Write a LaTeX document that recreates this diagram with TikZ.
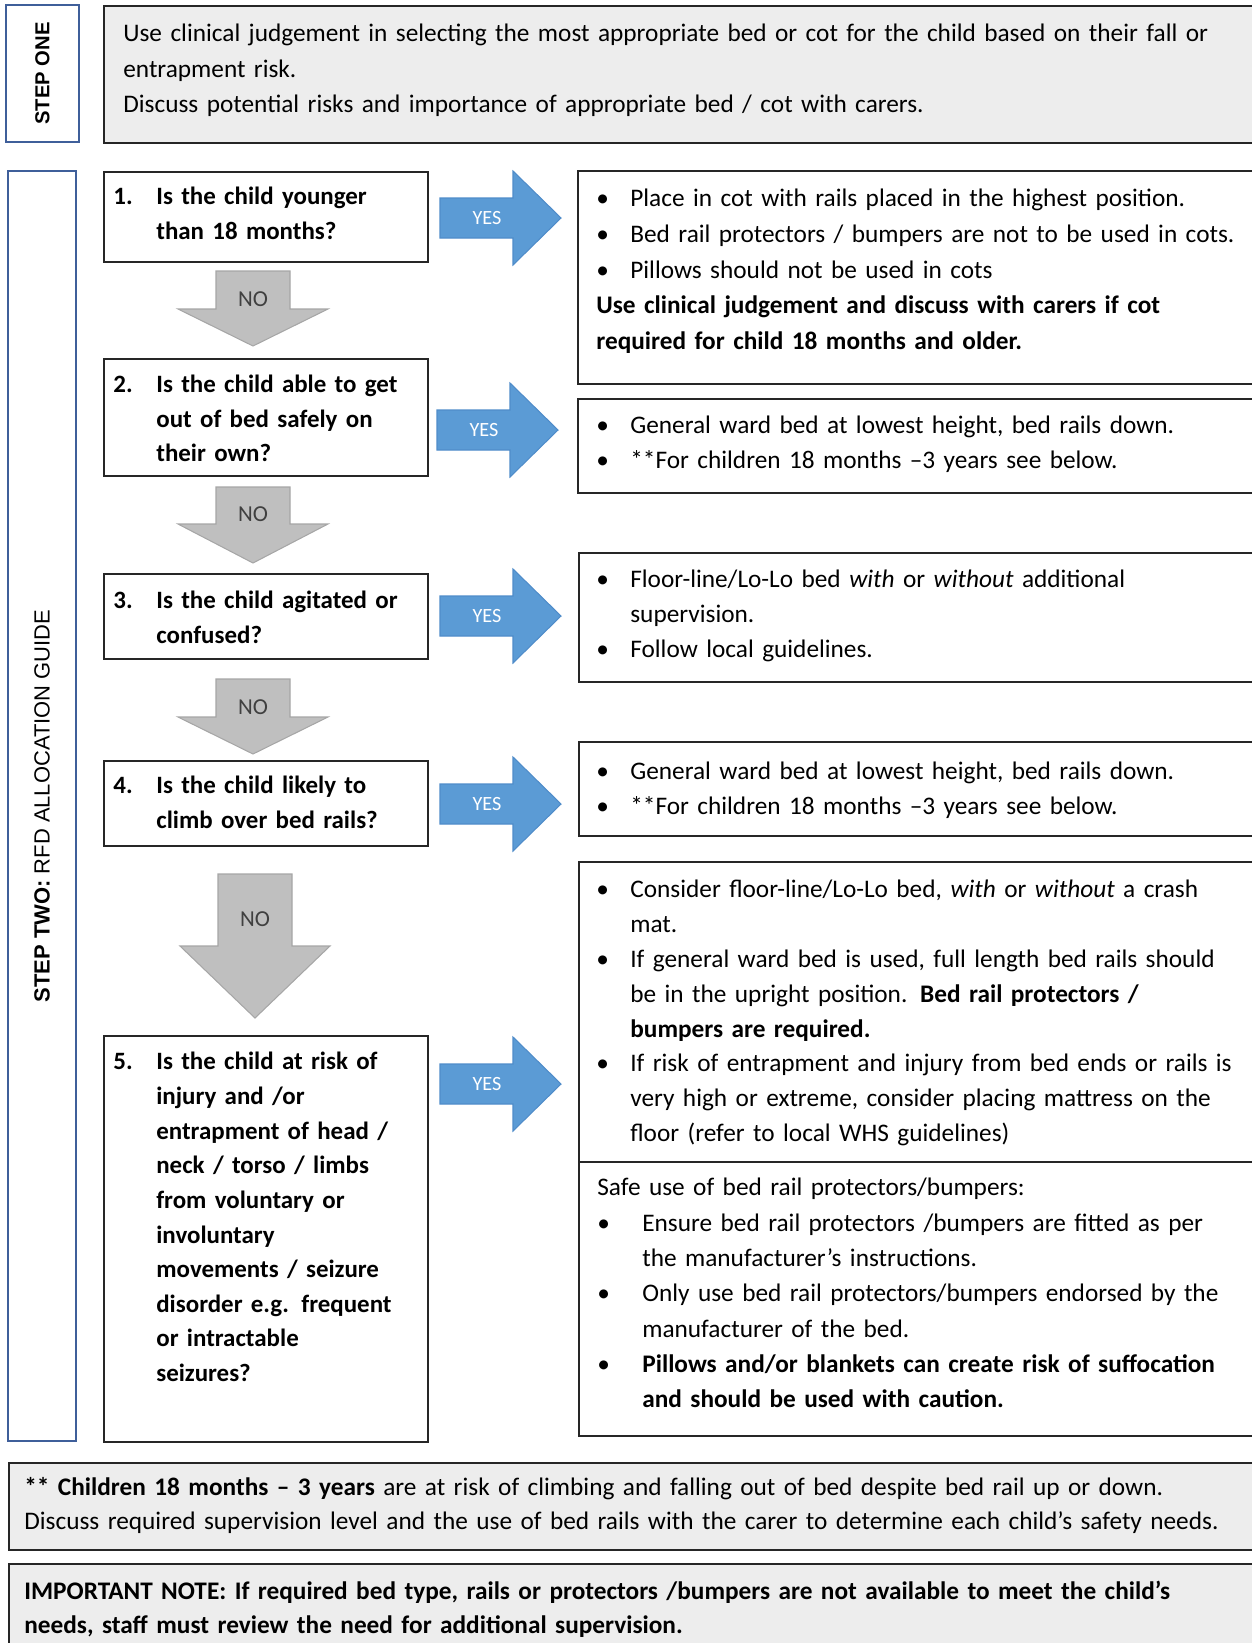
\documentclass[tikz,border=0pt]{standalone}
\usepackage{fontspec}
\setmainfont{Carlito}
\newfontfamily\labelfont{Liberation Sans}

\definecolor{boxgray}{HTML}{EDEDED}
\definecolor{frameline}{HTML}{262626}
\definecolor{stepblue}{HTML}{3F5F9A}
\definecolor{yesblue}{HTML}{5B9BD5}
\definecolor{yesline}{HTML}{4F8CC9}
\definecolor{nogray}{HTML}{BFBFBF}
\definecolor{noline}{HTML}{A6A6A6}
\definecolor{notext}{HTML}{404040}

\newcommand{\mainsize}{\fontsize{14.4}{19.8}\selectfont}
\newcommand{\qnum}[1]{\makebox[0.86cm][l]{#1}}
\newcommand{\qind}{\hspace*{0.86cm}}
\newcommand{\bul}{\makebox[0.68cm][l]{\textbullet}}
\newcommand{\bulind}{\hspace*{0.68cm}}
\newcommand{\bulwide}{\makebox[0.9cm][l]{\textbullet}}
\newcommand{\wideind}{\hspace*{0.9cm}}

\begin{document}
\begin{tikzpicture}[x=0.02cm, y=-0.02cm,
    frame/.style={draw=frameline, line width=1.1pt, fill=white, anchor=north west, inner sep=0pt},
    grayframe/.style={frame, fill=boxgray},
    steplbl/.style={draw=stepblue, line width=0.9pt, fill=white, rotate=90, inner sep=0pt,
      font=\labelfont\fontsize{11.5}{14}\selectfont},
    txt/.style={anchor=base west, inner sep=0pt, align=left, text width=14cm, font=\mainsize, yshift=-1.1pt},
    qtxt/.style={txt, text width=6.2cm, font=\fontsize{14.2}{19.5}\selectfont\bfseries},
    yesarrow/.style={fill=yesblue, draw=yesline, line width=0.6pt},
    yeslbl/.style={text=white, inner sep=0pt, font=\fontsize{11.5}{13}\selectfont},
    noarrow/.style={fill=nogray, draw=noline, line width=0.6pt},
    nolbl/.style={text=notext, inner sep=0pt, font=\fontsize{13}{14}\selectfont}]
  \useasboundingbox (0,0) rectangle (1251,1643);

  % step labels
  \node[steplbl, minimum width=2.74cm, minimum height=1.46cm] (s1lbl) at (42.5,73.5) {\bfseries STEP ONE};
  \node[steplbl, minimum width=25.4cm, minimum height=1.36cm, font=\labelfont\fontsize{12.5}{14}\selectfont]
    (s2lbl) at (42,806) {\textbf{STEP TWO:} RFD ALLOCATION GUIDE};

  % frames
  \node[grayframe, minimum width=23.18cm, minimum height=2.74cm] (s1box) at (103,5) {};
  \foreach \nm/\px/\py/\w/\h in {q1/103/171/6.48/1.8, q2/103/358/6.48/2.34, q3/103/573/6.48/1.7,
      q4/103/760/6.48/1.7, q5/103/1035/6.48/8.12, r1/577/170/13.7/4.26, r2/577/398/13.7/1.88,
      r3/578/552/13.7/2.58, r4/578/741/13.7/1.88, r5a/578/861/13.7/6.0, r5b/578/1161/13.7/5.48}
    \node[frame, minimum width=\w cm, minimum height=\h cm] (\nm) at (\px,\py) {};
  \node[grayframe, minimum width=25.08cm, minimum height=1.74cm] (foot) at (8,1462) {};
  \node[grayframe, minimum width=25.08cm, minimum height=1.94cm] (note) at (8,1563) {};

  % yes arrows
  \foreach \lx/\cy/\nm in {440/218/y1, 437/430/y2, 440/616/y3, 440/804/y4, 440/1084/y5} {
    \draw[yesarrow] (\lx,\cy-20) -- (\lx+73,\cy-20) -- (\lx+73,\cy-47) -- (\lx+121,\cy)
      -- (\lx+73,\cy+47) -- (\lx+73,\cy+20) -- (\lx,\cy+20) -- cycle;
    \node[yeslbl] (\nm) at (\lx+47,\cy) {YES};
  }
  % no arrows
  \foreach \cx/\t/\b/\p/\nm in {253/271/309/346/n1, 253/487/524/563/n2, 253/679/717/754/n3, 255/874/946/1018/n4} {
    \draw[noarrow] (\cx-37,\t) -- (\cx+37,\t) -- (\cx+37,\b) -- (\cx+75,\b) -- (\cx,\p)
      -- (\cx-75,\b) -- (\cx-37,\b) -- cycle;
    \node[nolbl] (\nm) at (\cx,{(\t+\b)/2+9}) {NO};
  }

  % texts
  \node[txt, text width=23cm, font=\fontsize{14.4}{20}\selectfont] (s1t) at (123,40)
    {Use clinical judgement in selecting the most appropriate bed or cot for the child based on their fall or\\
     entrapment risk.\\
     Discuss potential risks and importance of appropriate bed / cot with carers.};
  \node[qtxt] (q1t) at (113,203) {\qnum{1.}Is the child younger\\ \qind than 18 months?};
  \node[qtxt] (q2t) at (113,391) {\qnum{2.}Is the child able to get\\ \qind out of bed safely on\\ \qind their own?};
  \node[qtxt] (q3t) at (113,607) {\qnum{3.}Is the child agitated or\\ \qind confused?};
  \node[qtxt] (q4t) at (113,792) {\qnum{4.}Is the child likely to\\ \qind climb over bed rails?};
  \node[qtxt, font=\fontsize{14.2}{19.7}\selectfont\bfseries] (q5t) at (113,1068) {\qnum{5.}Is the child at risk of\\ \qind injury and /or\\
    \qind entrapment of head /\\ \qind neck / torso / limbs\\ \qind from voluntary or\\ \qind involuntary\\
    \qind movements / seizure\\ \qind disorder e.g. frequent\\ \qind or intractable\\ \qind seizures?};

  \node[txt, font=\fontsize{14.4}{20.3}\selectfont] (r1t) at (596,205)
    {\bul Place in cot with rails placed in the highest position.\\
     \bul Bed rail protectors / bumpers are not to be used in cots.\\
     \bul Pillows should not be used in cots\\
     \textbf{Use clinical judgement and discuss with carers if cot}\\
     \textbf{required for child 18 months and older.}};
  \node[txt] (r2t) at (596,432)
    {\bul General ward bed at lowest height, bed rails down.\\
     \bul **For children 18 months --3 years see below.};
  \node[txt] (r3t) at (596,586)
    {\bul Floor-line/Lo-Lo bed \textit{with} or \textit{without} additional\\
     \bulind supervision.\\
     \bul Follow local guidelines.};
  \node[txt] (r4t) at (596,778)
    {\bul General ward bed at lowest height, bed rails down.\\
     \bul **For children 18 months --3 years see below.};
  \node[txt] (r5at) at (596,896)
    {\bul Consider floor-line/Lo-Lo bed, \textit{with} or \textit{without} a crash\\
     \bulind mat.\\
     \bul If general ward bed is used, full length bed rails should\\
     \bulind be in the upright position. \textbf{Bed rail protectors /}\\
     \bulind \textbf{bumpers are required.}\\
     \bul If risk of entrapment and injury from bed ends or rails is\\
     \bulind very high or extreme, consider placing mattress on the\\
     \bulind floor (refer to local WHS guidelines)};
  \node[txt, font=\fontsize{14.4}{20.1}\selectfont] (r5bt) at (597,1194)
    {Safe use of bed rail protectors/bumpers:\\
     \bulwide Ensure bed rail protectors /bumpers are fitted as per\\
     \wideind the manufacturer's instructions.\\
     \bulwide Only use bed rail protectors/bumpers endorsed by the\\
     \wideind manufacturer of the bed.\\
     \bulwide \textbf{Pillows and/or blankets can create risk of suffocation}\\
     \wideind \textbf{and should be used with caution.}};

  \node[txt, text width=24.8cm, font=\fontsize{14.4}{19}\selectfont] (foott) at (24,1494)
    {\textbf{** Children 18 months -- 3 years} are at risk of climbing and falling out of bed despite bed rail up or down.\\
     Discuss required supervision level and the use of bed rails with the carer to determine each child's safety needs.};
  \node[txt, text width=24.8cm, font=\fontsize{14.4}{19}\selectfont\bfseries] (notet) at (24,1598)
    {IMPORTANT NOTE: If required bed type, rails or protectors /bumpers are not available to meet the child's\\
     needs, staff must review the need for additional supervision.};
\end{tikzpicture}
\end{document}
